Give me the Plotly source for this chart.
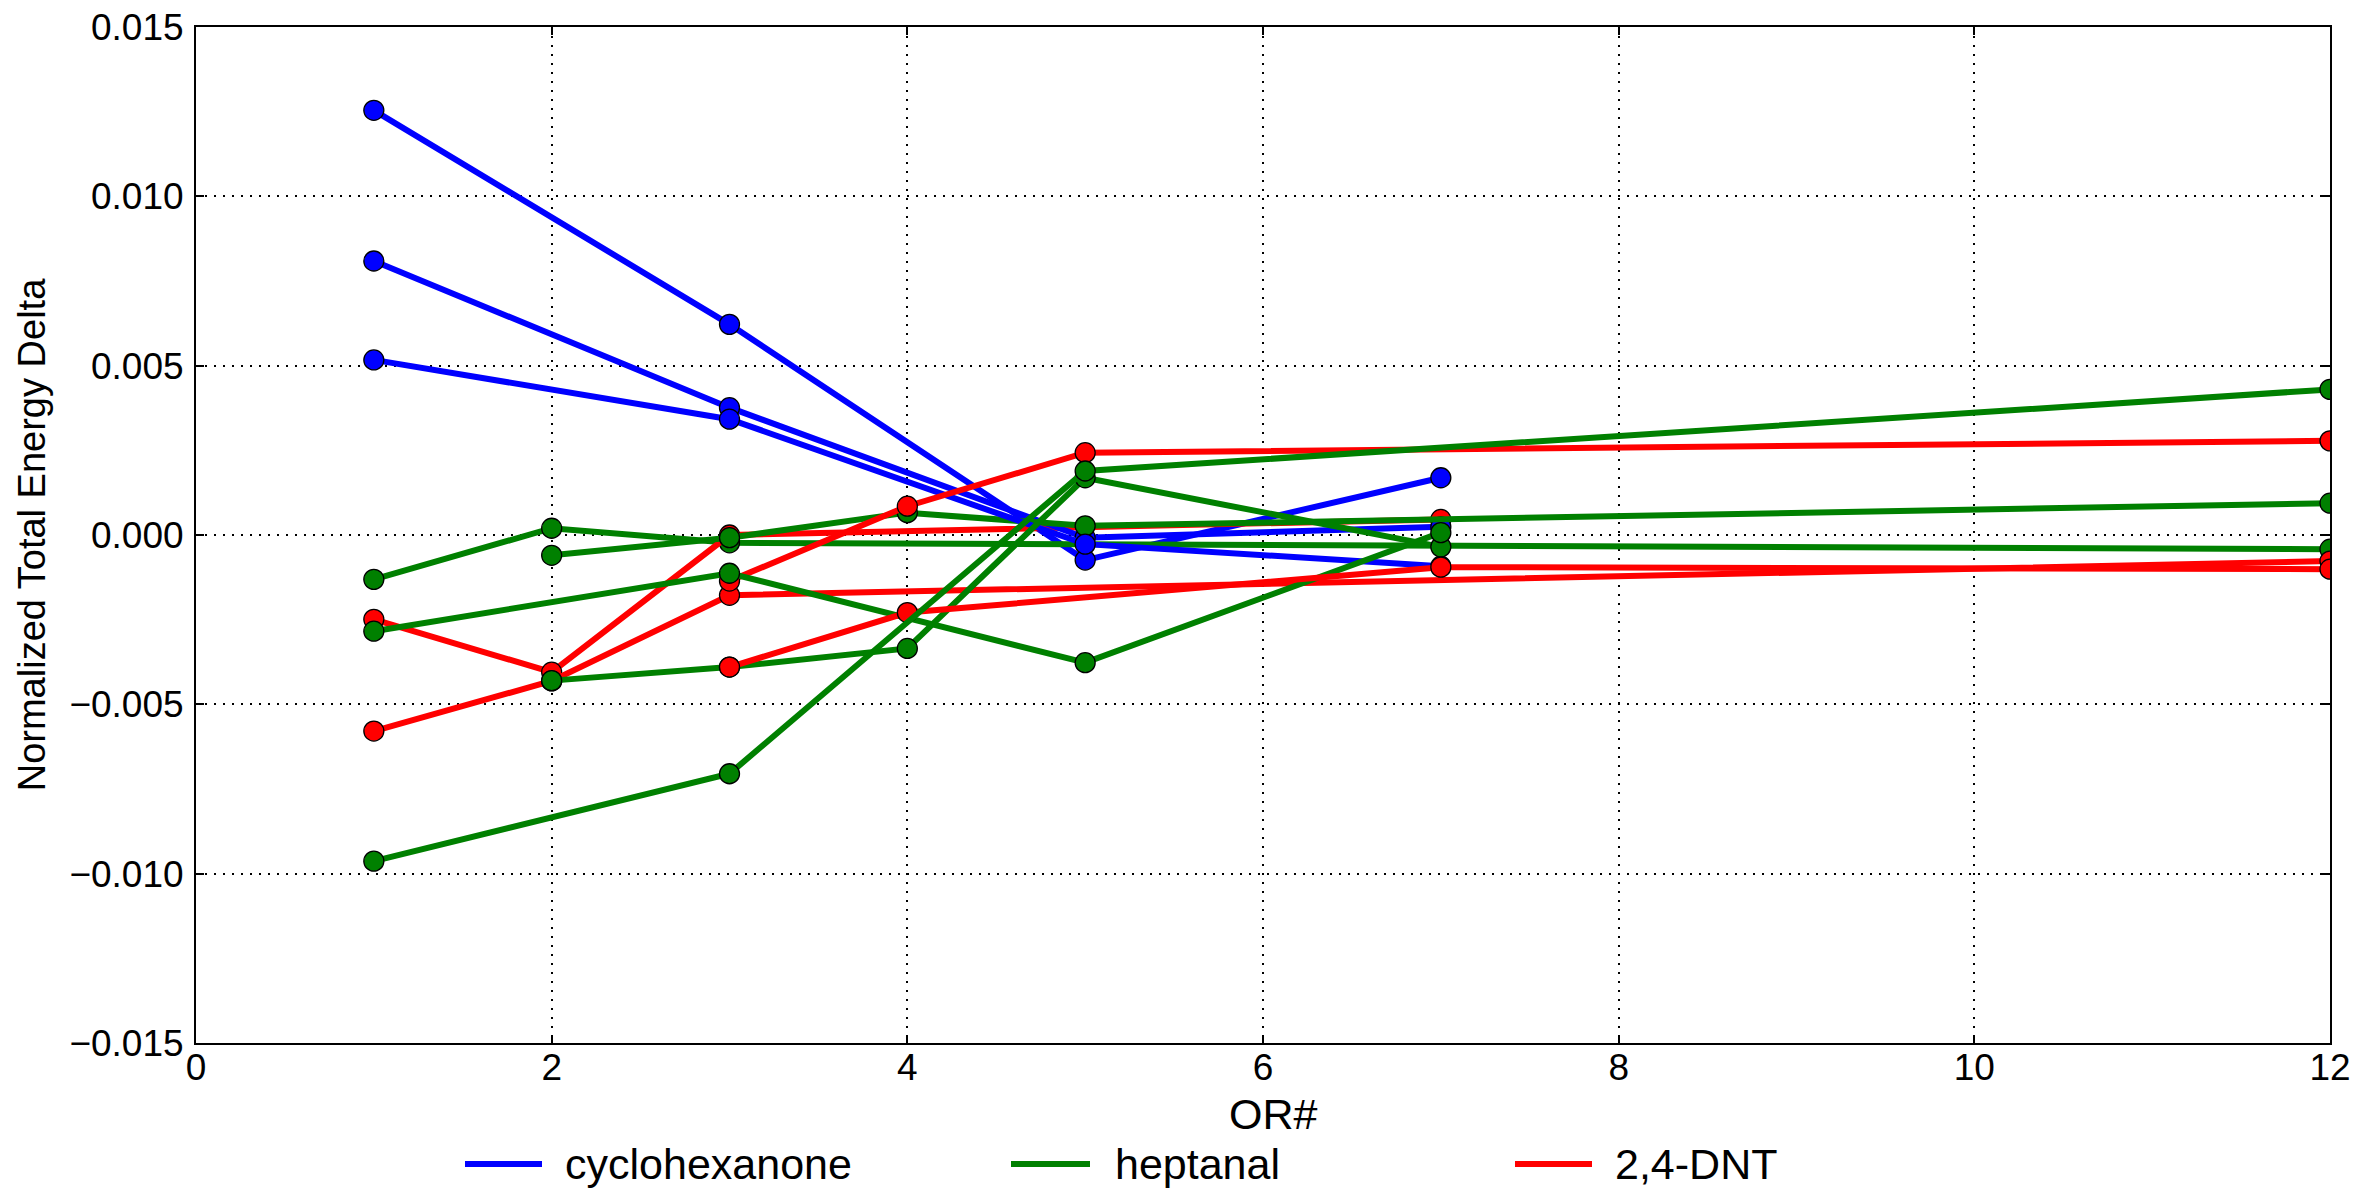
import plotly.graph_objects as go

# ---- data ----
cyc_x = [[1, 3, 5, 7], [1, 3, 5, 7], [1, 3, 5, 7]]
cyc_y = [
    [0.01254, 0.00622, -0.00074, 0.00169],
    [0.00809, 0.00376, -0.00008, 0.00024],
    [0.00517, 0.00342, -0.00027, -0.00092],
]

hep_x = [[1, 2, 3, 12], [2, 3, 4, 5, 12], [2, 3, 4, 5, 7], [1, 3, 5, 7], [1, 3, 5, 12]]
hep_y = [
    [-0.00131, 0.00020, -0.00023, -0.00042],
    [-0.00060, -0.00008, 0.00066, 0.00027, 0.00094],
    [-0.00430, -0.00390, -0.00335, 0.00169, -0.00035],
    [-0.00284, -0.00113, -0.00377, 0.00007],
    [-0.00963, -0.00705, 0.00189, 0.00430],
]

dnt_x = [[1, 2, 3, 7], [1, 2, 3, 12], [3, 4, 5, 12], [3, 4, 7, 12]]
dnt_y = [
    [-0.00249, -0.00405, 0.00000, 0.00046],
    [-0.00579, -0.00431, -0.00178, -0.00077],
    [-0.00136, 0.00085, 0.00243, 0.00278],
    [-0.00390, -0.00229, -0.00095, -0.00101],
]

legend_labels = ["cyclohexanone", "heptanal", "2,4-DNT"]
colors = ["#0000ff", "#008000", "#ff0000"]

y_ticks = [-0.015, -0.010, -0.005, 0.0, 0.005, 0.010, 0.015]
x_ticks = [0, 2, 4, 6, 8, 10, 12]

groups = [
    (legend_labels[0], colors[0], cyc_x, cyc_y),
    (legend_labels[1], colors[1], hep_x, hep_y),
    (legend_labels[2], colors[2], dnt_x, dnt_y),
]

FONT = "Liberation Sans, Arial, sans-serif"
W, H = 2380, 1193
ML, MR, MT, MB = 196, 50, 27, 150
PW, PH = W - ML - MR, H - MT - MB


def px_x(p):
    return (p - ML) / PW


def px_y(p):
    return (H - MB - p) / PH


fig = go.Figure()

n_max = max(len(g[2]) for g in groups)
for i in range(n_max):
    for name, color, xs, ys in groups:
        if i < len(xs):
            fig.add_trace(go.Scatter(
                x=xs[i], y=ys[i], mode="lines+markers",
                line=dict(color=color, width=6),
                marker=dict(color=color, size=20, line=dict(color="black", width=1.3)),
                legendgroup=name, showlegend=False, hoverinfo="skip",
            ))

axis_common = dict(
    showline=True, linecolor="black", linewidth=2, mirror="ticks",
    ticks="inside", ticklen=8, tickwidth=1.5, tickcolor="black",
    showgrid=True, gridcolor="black", gridwidth=1.5, griddash="2px,7px",
    zeroline=False, automargin=False,
    tickfont=dict(family=FONT, size=37, color="black"),
)

fig.update_xaxes(
    range=[0, 12], tickvals=x_ticks, ticktext=[str(v) for v in x_ticks],
    ticklabelstandoff=-9, **axis_common,
)
fig.update_yaxes(
    range=[-0.015, 0.015], tickvals=y_ticks, tickformat=".3f",
    title=dict(text="Normalized Total Energy Delta",
               font=dict(family=FONT, size=38, color="black"), standoff=12),
    ticklabelstandoff=3, **axis_common,
)

# x-axis title
fig.add_annotation(
    text="OR#", xref="paper", yref="paper", x=px_x(1273), y=px_y(1114),
    xanchor="center", yanchor="middle", showarrow=False,
    font=dict(family=FONT, size=43, color="black"),
)

# legend (line samples + labels) below the axes
legend_line_x = [(465, 542), (1011, 1090), (1515, 1592)]
legend_text_x = [563, 1113, 1613]
legend_y = 1164
for (x0, x1), tx, lab, col in zip(legend_line_x, legend_text_x, legend_labels, colors):
    fig.add_shape(
        type="line", xref="paper", yref="paper",
        x0=px_x(x0), x1=px_x(x1), y0=px_y(legend_y), y1=px_y(legend_y),
        line=dict(color=col, width=6),
    )
    fig.add_annotation(
        text=lab, xref="paper", yref="paper", x=px_x(tx), y=px_y(legend_y),
        xanchor="left", yanchor="middle", showarrow=False,
        font=dict(family=FONT, size=43, color="black"),
    )

fig.update_layout(
    width=W, height=H,
    margin=dict(l=ML, r=MR, t=MT, b=MB, autoexpand=False),
    paper_bgcolor="white", plot_bgcolor="white",
    font=dict(family=FONT, color="black"),
    showlegend=False,
)

fig.write_html("out.html")
